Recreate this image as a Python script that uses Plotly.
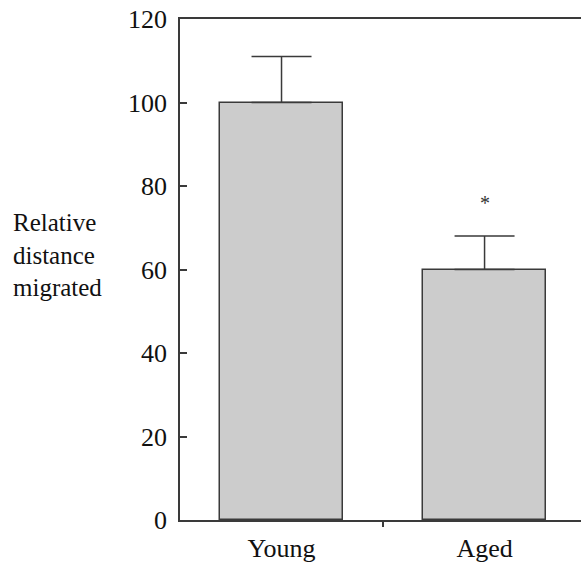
import plotly.graph_objects as go

categories = ["Young", "Aged"]
values = [100, 60]
err_plus = [11, 8]
y_ticks = [0, 20, 40, 60, 80, 100, 120]
ylabel_text = "Relative<br>distance<br>migrated"
ylabel_y = 63.4
sig_marks = ["", "*"]
sig_y = [None, 76.0]

FONT = "Liberation Serif"
LINE = "#3a3a3a"
TEXT = "#111111"

x_pos = list(range(len(categories)))

fig = go.Figure()
fig.add_trace(go.Bar(
    x=x_pos, y=values, width=0.606,
    marker=dict(color="#cccccc", line=dict(color=LINE, width=1.5)),
    error_y=dict(type="data", symmetric=False, array=err_plus,
                 arrayminus=[0] * len(values), color=LINE, thickness=1.5, width=30),
    showlegend=False,
))

annotations = [dict(text=ylabel_text, xref="paper", yref="y", x=-0.4215, y=ylabel_y,
                    xanchor="left", yanchor="middle", align="left", showarrow=False,
                    font=dict(family=FONT, size=25, color=TEXT))]
for xi, (m, yy) in enumerate(zip(sig_marks, sig_y)):
    if m:
        annotations.append(dict(text=m, xref="x", yref="y", x=xi, y=yy,
                                xanchor="center", yanchor="middle", showarrow=False,
                                font=dict(family=FONT, size=20, color="#333")))

fig.update_layout(
    width=581, height=567,
    margin=dict(l=180, r=0, t=19, b=47),
    paper_bgcolor="white", plot_bgcolor="white",
    font=dict(family=FONT, size=26, color=TEXT),
    bargap=0,
    xaxis=dict(range=[-0.5, 1.475], tickvals=x_pos, ticktext=categories,
               ticks="", showgrid=False, zeroline=False,
               showline=True, linecolor=LINE, linewidth=1.5, mirror=True,
               ticklabelstandoff=4,
               tickfont=dict(family=FONT, size=26, color=TEXT),
               minor=dict(tickvals=[0.5], ticks="outside", ticklen=5,
                          tickcolor=LINE, tickwidth=1.5, showgrid=False)),
    yaxis=dict(range=[0, 120], tickvals=y_ticks, ticks="inside", ticklen=7,
               tickcolor=LINE, tickwidth=1.5, showgrid=False, zeroline=False,
               showline=True, linecolor=LINE, linewidth=1.5, mirror=False,
               ticklabelstandoff=6,
               tickfont=dict(family=FONT, size=26, color=TEXT)),
    annotations=annotations,
)

fig.write_html("out.html")
